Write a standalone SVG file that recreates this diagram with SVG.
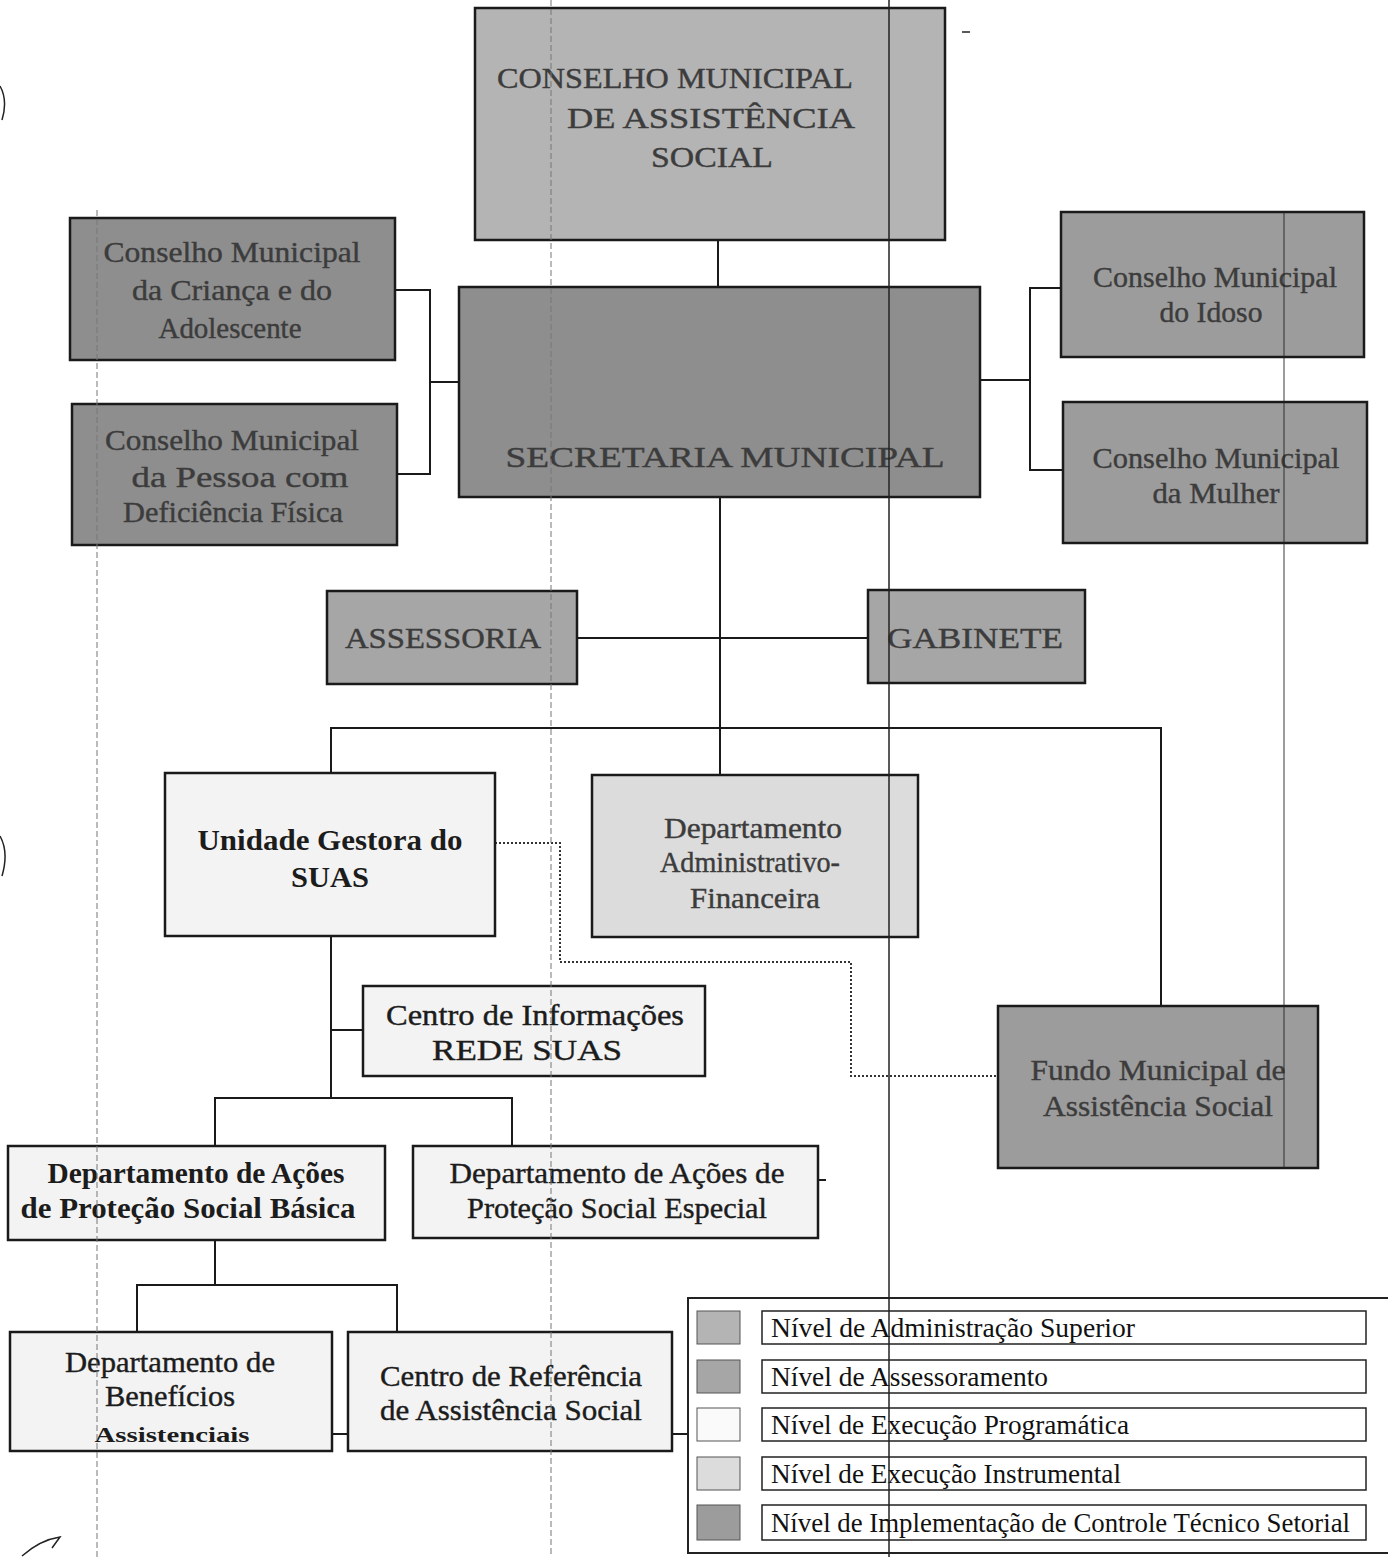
<svg xmlns="http://www.w3.org/2000/svg" width="1388" height="1557" viewBox="0 0 1388 1557">
<style>
.box{stroke:#1a1a1a;stroke-width:2.5}
.sup{fill:#b4b4b4}
.ass{fill:#a6a6a6}
.imp{fill:#8e8e8e}
.imp2{fill:#9c9c9c}
.prog{fill:#f3f3f3}
.inst{fill:#dcdcdc}
.t{font-family:"Liberation Serif","Times New Roman",serif;text-anchor:middle;fill:#1c1c1c;font-size:30px;stroke:#1c1c1c;stroke-width:0.4}
.td{fill:#3c3c3c;stroke:#3c3c3c}
.b{font-weight:bold;stroke-width:0}
.c{fill:none;stroke:#1a1a1a;stroke-width:2}
.dot{fill:none;stroke:#333;stroke-width:2;stroke-dasharray:2 2}
.lg{font-family:"Liberation Serif","Times New Roman",serif;font-size:27px;fill:#111}
.lb{fill:#fff;stroke:#222;stroke-width:1.5}
.art{fill:none;stroke:#222;stroke-width:1.5}
.artf{fill:none;stroke:#777;stroke-width:1;stroke-dasharray:6 3}
</style>

<g id="connectors">
<line class="c" x1="718" y1="240" x2="718" y2="287"/>
<polyline class="c" points="395,290 430,290 430,474 397,474"/>
<line class="c" x1="430" y1="382" x2="459" y2="382"/>
<polyline class="c" points="1061,288 1030,288 1030,470 1063,470"/>
<line class="c" x1="980" y1="380" x2="1030" y2="380"/>
<line class="c" x1="720" y1="497" x2="720" y2="775"/>
<line class="c" x1="577" y1="638" x2="868" y2="638"/>
<polyline class="c" points="331,773 331,728 1161,728 1161,1006"/>
<line class="c" x1="331" y1="936" x2="331" y2="1098"/>
<line class="c" x1="331" y1="1030" x2="363" y2="1030"/>
<polyline class="c" points="215,1146 215,1098 512,1098 512,1146"/>
<line class="c" x1="215" y1="1240" x2="215" y2="1285"/>
<polyline class="c" points="137,1332 137,1285 397,1285 397,1332"/>
<line class="c" x1="332" y1="1434" x2="348" y2="1434"/>
<line class="c" x1="672" y1="1434" x2="688" y2="1434"/>
<line class="c" x1="818" y1="1180" x2="826" y2="1180"/>
<polyline class="dot" points="495,843 560,843 560,962 851,962 851,1076 998,1076"/>
</g>

<g id="n-conselho-as">
<rect class="box sup" x="475" y="8" width="470" height="232"/>
<text class="t td" x="675" y="88" textLength="356" lengthAdjust="spacingAndGlyphs">CONSELHO MUNICIPAL</text>
<text class="t td" x="711" y="128" textLength="288" lengthAdjust="spacingAndGlyphs">DE ASSISTÊNCIA</text>
<text class="t td" x="712" y="167" textLength="122" lengthAdjust="spacingAndGlyphs">SOCIAL</text>
</g>

<g id="n-cmdca">
<rect class="box imp" x="70" y="218" width="325" height="142"/>
<text class="t td" x="232" y="262" textLength="257" lengthAdjust="spacingAndGlyphs">Conselho Municipal</text>
<text class="t td" x="232" y="300" textLength="200" lengthAdjust="spacingAndGlyphs">da Criança e do</text>
<text class="t td" x="230" y="338" textLength="143" lengthAdjust="spacingAndGlyphs">Adolescente</text>
</g>

<g id="n-cmpd">
<rect class="box imp" x="72" y="404" width="325" height="141"/>
<text class="t td" x="232" y="450" textLength="254" lengthAdjust="spacingAndGlyphs">Conselho Municipal</text>
<text class="t td" x="240" y="487" textLength="217" lengthAdjust="spacingAndGlyphs">da Pessoa com</text>
<text class="t td" x="233" y="522" textLength="220" lengthAdjust="spacingAndGlyphs">Deficiência Física</text>
</g>

<g id="n-secretaria">
<rect class="box imp" x="459" y="287" width="521" height="210"/>
<text class="t td" x="725" y="467" textLength="439" lengthAdjust="spacingAndGlyphs">SECRETARIA MUNICIPAL</text>
</g>

<g id="n-cmi">
<rect class="box imp2" x="1061" y="212" width="303" height="145"/>
<text class="t td" x="1215" y="287" textLength="244" lengthAdjust="spacingAndGlyphs">Conselho Municipal</text>
<text class="t td" x="1211" y="322" textLength="103" lengthAdjust="spacingAndGlyphs">do Idoso</text>
</g>

<g id="n-cmm">
<rect class="box imp2" x="1063" y="402" width="304" height="141"/>
<text class="t td" x="1216" y="468" textLength="247" lengthAdjust="spacingAndGlyphs">Conselho Municipal</text>
<text class="t td" x="1216" y="503" textLength="127" lengthAdjust="spacingAndGlyphs">da Mulher</text>
</g>

<g id="n-assessoria">
<rect class="box ass" x="327" y="591" width="250" height="93"/>
<text class="t td" x="443" y="648" textLength="196" lengthAdjust="spacingAndGlyphs">ASSESSORIA</text>
</g>

<g id="n-gabinete">
<rect class="box ass" x="868" y="590" width="217" height="93"/>
<text class="t td" x="975" y="648" textLength="176" lengthAdjust="spacingAndGlyphs">GABINETE</text>
</g>

<g id="n-unidade">
<rect class="box prog" x="165" y="773" width="330" height="163"/>
<text class="t b" x="330" y="850" textLength="265" lengthAdjust="spacingAndGlyphs">Unidade Gestora do</text>
<text class="t b" x="330" y="887" textLength="78" lengthAdjust="spacingAndGlyphs">SUAS</text>
</g>

<g id="n-daf">
<rect class="box inst" x="592" y="775" width="326" height="162"/>
<text class="t td" x="753" y="838" textLength="178" lengthAdjust="spacingAndGlyphs">Departamento</text>
<text class="t td" x="750" y="872" textLength="180" lengthAdjust="spacingAndGlyphs">Administrativo-</text>
<text class="t td" x="755" y="908" textLength="130" lengthAdjust="spacingAndGlyphs">Financeira</text>
</g>

<g id="n-centro-info">
<rect class="box prog" x="363" y="986" width="342" height="90"/>
<text class="t" x="535" y="1025" textLength="298" lengthAdjust="spacingAndGlyphs">Centro de Informações</text>
<text class="t" x="527" y="1060" textLength="190" lengthAdjust="spacingAndGlyphs">REDE SUAS</text>
</g>

<g id="n-fundo">
<rect class="box imp2" x="998" y="1006" width="320" height="162"/>
<text class="t td" x="1158" y="1080" textLength="255" lengthAdjust="spacingAndGlyphs">Fundo Municipal de</text>
<text class="t td" x="1158" y="1116" textLength="230" lengthAdjust="spacingAndGlyphs">Assistência Social</text>
</g>

<g id="n-basica">
<rect class="box prog" x="8" y="1146" width="377" height="94"/>
<text class="t b" x="196" y="1183" textLength="297" lengthAdjust="spacingAndGlyphs">Departamento de Ações</text>
<text class="t b" x="188" y="1218" textLength="335" lengthAdjust="spacingAndGlyphs">de Proteção Social Básica</text>
</g>

<g id="n-especial">
<rect class="box prog" x="413" y="1146" width="405" height="92"/>
<text class="t" x="617" y="1183" textLength="335" lengthAdjust="spacingAndGlyphs">Departamento de Ações de</text>
<text class="t" x="617" y="1218" textLength="300" lengthAdjust="spacingAndGlyphs">Proteção Social Especial</text>
</g>

<g id="n-beneficios">
<rect class="box prog" x="10" y="1332" width="322" height="119"/>
<text class="t" x="170" y="1372" textLength="210" lengthAdjust="spacingAndGlyphs">Departamento de</text>
<text class="t" x="170" y="1406" textLength="130" lengthAdjust="spacingAndGlyphs">Benefícios</text>
<text class="t b" x="172" y="1442" style="font-size:22px" textLength="155" lengthAdjust="spacingAndGlyphs">Assistenciais</text>
</g>

<g id="n-cras">
<rect class="box prog" x="348" y="1332" width="324" height="119"/>
<text class="t" x="511" y="1386" textLength="262" lengthAdjust="spacingAndGlyphs">Centro de Referência</text>
<text class="t" x="511" y="1420" textLength="262" lengthAdjust="spacingAndGlyphs">de Assistência Social</text>
</g>

<g id="legend">
<polyline fill="none" stroke="#222" stroke-width="2" points="1388,1298 688,1298 688,1553 1388,1553"/>
<rect x="697" y="1311" width="43" height="33" fill="#b4b4b4" stroke="#555" stroke-width="1"/>
<rect x="697" y="1360" width="43" height="33" fill="#a6a6a6" stroke="#555" stroke-width="1"/>
<rect x="697" y="1408" width="43" height="33" fill="#fafafa" stroke="#555" stroke-width="1"/>
<rect x="697" y="1457" width="43" height="33" fill="#dcdcdc" stroke="#555" stroke-width="1"/>
<rect x="697" y="1505" width="43" height="35" fill="#9c9c9c" stroke="#555" stroke-width="1"/>
<rect class="lb" x="762" y="1311" width="604" height="33"/>
<rect class="lb" x="762" y="1360" width="604" height="33"/>
<rect class="lb" x="762" y="1408" width="604" height="33"/>
<rect class="lb" x="762" y="1457" width="604" height="33"/>
<rect class="lb" x="762" y="1505" width="604" height="35"/>
<text class="lg" x="771" y="1337" textLength="364" lengthAdjust="spacingAndGlyphs">Nível de Administração Superior</text>
<text class="lg" x="771" y="1386" textLength="277" lengthAdjust="spacingAndGlyphs">Nível de Assessoramento</text>
<text class="lg" x="771" y="1434" textLength="358" lengthAdjust="spacingAndGlyphs">Nível de Execução Programática</text>
<text class="lg" x="771" y="1483" textLength="350" lengthAdjust="spacingAndGlyphs">Nível de Execução Instrumental</text>
<text class="lg" x="771" y="1532" textLength="579" lengthAdjust="spacingAndGlyphs">Nível de Implementação de Controle Técnico Setorial</text>
</g>

<g id="scan-marks">
<line class="art" x1="889" y1="0" x2="889" y2="1557"/>
<line class="art" x1="1284" y1="212" x2="1284" y2="1168" stroke-opacity="0.6"/>
<line class="artf" x1="551" y1="0" x2="551" y2="1557"/>
<line class="artf" x1="97" y1="210" x2="97" y2="1557"/>
<line class="art" x1="962" y1="32" x2="970" y2="32"/>
<path class="art" d="M0,86 Q8,100 2,120"/>
<path class="art" d="M0,836 Q9,852 2,876"/>
<path class="art" d="M22,1556 Q40,1540 60,1537 L52,1548"/>
</g>
</svg>
